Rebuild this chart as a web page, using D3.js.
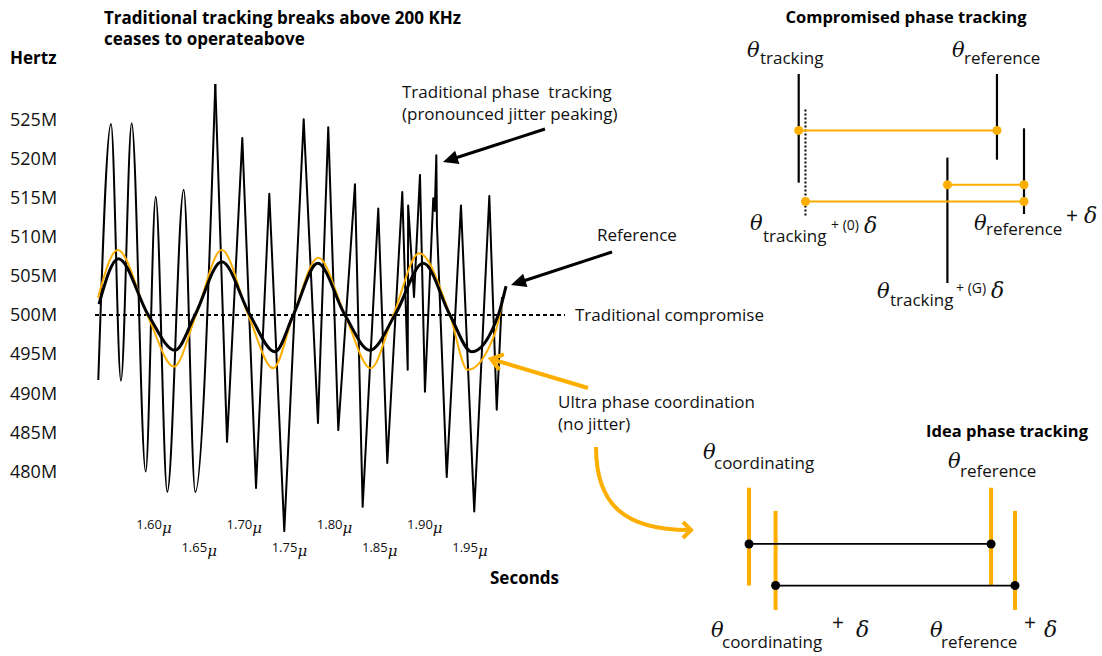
<!DOCTYPE html>
<html>
<head>
<meta charset="utf-8">
<script src="https://cdn.jsdelivr.net/npm/d3@7"></script>
<style>
body { margin: 0; background: #fff; }
svg { display: block; font-family: "Open Sans", sans-serif; }
.math { font-family: "DejaVu Serif", "Liberation Serif", serif; font-style: italic; }
</style>
</head>
<body>
<svg width="1102" height="656"></svg>
<script>
// ---- data (time in microseconds, frequency in MHz) ----
var jitterT = [1.5383, 1.5524, 1.5634, 1.5753, 1.5908, 1.6019, 1.6147, 1.6329, 1.6457, 1.6679,
  1.6809, 1.6978, 1.7130, 1.7277, 1.7443, 1.7658, 1.7816, 1.7930, 1.8041, 1.8226,
  1.8311, 1.8484, 1.8584, 1.8750, 1.8810, 1.8815, 1.8880, 1.8946, 1.9001, 1.9093,
  1.9110, 1.9127, 1.9134, 1.9242, 1.9400, 1.9547, 1.9714, 1.9796, 1.9854];
var jitterHz = [491.7, 524.4, 491.6, 524.5, 480.0, 515.1, 477.4, 516.0, 477.4, 529.5,
  483.8, 522.6, 477.9, 515.5, 472.4, 525.0, 486.2, 524.0, 485.3, 516.7,
  475.5, 513.6, 481.1, 515.7, 493.0, 514.0, 502.3, 517.9, 490.2, 514.9,
  513.3, 520.4, 511.5, 479.3, 514.0, 474.9, 515.2, 487.9, 502.3];

var refT = [1.5391, 1.5605, 1.5937, 1.6233, 1.6454, 1.6750, 1.7063, 1.7340, 1.7543, 1.7813,
  1.8115, 1.8392, 1.8669, 1.8983, 1.9278, 1.9519, 1.9813, 1.9899];
var refHz = [501.4, 507.2, 500.0, 495.5, 500.0, 506.8, 500.0, 495.3, 500.0, 506.6,
  500.0, 495.5, 500.0, 506.6, 500.0, 495.3, 500.0, 503.7];

var ultraT = [1.5380, 1.5598, 1.5926, 1.6222, 1.6465, 1.6750, 1.7044, 1.7321, 1.7543, 1.7820,
  1.8115, 1.8400, 1.8650, 1.8938, 1.9278, 1.9473, 1.9777, 1.9876];
var ultraHz = [502.2, 508.3, 500.0, 493.4, 500.0, 508.3, 500.0, 493.2, 500.0, 507.3,
  500.0, 493.2, 500.0, 507.9, 500.0, 493.0, 497.7, 502.7];

var compromiseHz = 500;
var yTicks = [525, 520, 515, 510, 505, 500, 495, 490, 485, 480];
var xTicks = [1.60, 1.65, 1.70, 1.75, 1.80, 1.85, 1.90, 1.95];

// compromised phase tracking diagram (phase 0..1, height 0..100)
var compMarkPhase = [0, 0.03, 0.66, 0.88, 1];
var compMarkTop = [0, 17, 40, 0, 26];
var compMarkBottom = [52, 68, 100, 41, 67];
var compLinkFrom = [0, 0.66, 0.03];
var compLinkTo = [0.88, 1, 1];
var compLinkY = [27, 53, 61];

// ideal phase tracking diagram
var idealMarkPhase = [0, 0.1, 0.91, 1];
var idealMarkTop = [0, 19, 0, 19];
var idealMarkBottom = [80, 100, 80, 100];
var idealLinkFrom = [0, 0.1];
var idealLinkTo = [0.91, 1];
var idealLinkY = [46, 80];

var gold = "#fcaf00";
var svg = d3.select("svg");

var x = d3.scaleLinear().domain([1.60, 1.95]).range([154, 470]);
var y = d3.scaleLinear().domain([480, 525]).range([471.6, 119.3]);

// titles
var title = svg.append("text").attr("font-weight", "bold").attr("font-size", 17);
title.append("tspan").attr("x", 104).attr("y", 24).text("Traditional tracking breaks above 200 KHz");
title.append("tspan").attr("x", 104).attr("y", 45).text("ceases to operateabove");
svg.append("text").attr("x", 10).attr("y", 64).attr("font-weight", "bold").attr("font-size", 17).text("Hertz");
svg.append("text").attr("x", 490).attr("y", 584).attr("font-weight", "bold").attr("font-size", 17).text("Seconds");

// y tick labels
svg.append("g").selectAll("text").data(yTicks).join("text")
  .attr("x", 10).attr("y", function(d) { return y(d); }).attr("dy", "0.35em")
  .attr("font-size", 18).attr("fill", "#111")
  .text(function(d) { return d + "M"; });

// x tick labels, staggered
var xt = svg.append("g").selectAll("text").data(xTicks).join("text")
  .attr("x", function(d) { return x(d); })
  .attr("y", function(d, i) { return i % 2 ? 552 : 529; })
  .attr("text-anchor", "middle").attr("font-size", 13).attr("fill", "#111");
xt.append("tspan").text(function(d) { return d.toFixed(2); });
xt.append("tspan").attr("class", "math").attr("dy", 4).attr("font-size", 15).text("\u03bc");

// compromise dashed line
svg.append("line")
  .attr("x1", 95).attr("x2", 565).attr("y1", y(compromiseHz)).attr("y2", y(compromiseHz))
  .attr("stroke", "#000").attr("stroke-width", 2).attr("stroke-dasharray", "4,3");

function series(ts, vs, curve) {
  return d3.line().x(function(d) { return x(ts[d]); }).y(function(d) { return y(vs[d]); }).curve(curve);
}
// jitter: rounded swings at first, sharp spikes later on
var early = d3.range(0, 10), late = d3.range(9, jitterT.length);
svg.append("path").attr("d", series(jitterT, jitterHz, d3.curveMonotoneX)(early))
  .attr("fill", "none").attr("stroke", "#000").attr("stroke-width", 2);
svg.append("path").attr("d", series(jitterT, jitterHz, d3.curveLinear)(late))
  .attr("fill", "none").attr("stroke", "#000").attr("stroke-width", 2).attr("stroke-linejoin", "round");
svg.append("path").attr("d", series(ultraT, ultraHz, d3.curveMonotoneX)(d3.range(ultraT.length)))
  .attr("fill", "none").attr("stroke", gold).attr("stroke-width", 2);
svg.append("path").attr("d", series(refT, refHz, d3.curveMonotoneX)(d3.range(refT.length)))
  .attr("fill", "none").attr("stroke", "#000").attr("stroke-width", 3);

// annotation arrows
function arrow(x1, y1, x2, y2, color, w, len, half, open) {
  var dx = x2 - x1, dy = y2 - y1, l = Math.sqrt(dx * dx + dy * dy);
  var ux = dx / l, uy = dy / l, nx = -uy, ny = ux;
  var bx = x2 - ux * len, by = y2 - uy * len;
  svg.append("line").attr("x1", x1).attr("y1", y1)
    .attr("x2", open ? x2 - ux * 2 : bx + ux * 2).attr("y2", open ? y2 - uy * 2 : by + uy * 2)
    .attr("stroke", color).attr("stroke-width", w);
  var pts = [[bx + nx * half, by + ny * half], [x2, y2], [bx - nx * half, by - ny * half]];
  if (open) {
    svg.append("polyline").attr("points", pts.join(" ")).attr("fill", "none")
      .attr("stroke", color).attr("stroke-width", w).attr("stroke-linejoin", "miter");
  } else {
    svg.append("polygon").attr("points", pts.join(" ")).attr("fill", color);
  }
}
arrow(545, 129, 443, 162, "#000", 3, 15, 7, false);
arrow(612, 252, 511, 285, "#000", 3, 15, 7, false);
arrow(588, 388, 491, 359, gold, 4, 11, 8, true);

// curved arrow to ideal diagram
svg.append("path").attr("d", "M596,447 C596,505 625,530 689,530")
  .attr("fill", "none").attr("stroke", gold).attr("stroke-width", 4);
svg.append("polyline").attr("points", "683,522 691,530 683,538")
  .attr("fill", "none").attr("stroke", gold).attr("stroke-width", 4);

// annotation texts
function label(x0, y0, lines) {
  var t = svg.append("text").attr("font-size", 17).attr("fill", "#111");
  lines.forEach(function(s, i) {
    t.append("tspan").attr("x", x0).attr("y", y0 + i * 21.5).attr("xml:space", "preserve").text(s);
  });
}
label(402, 98, ["Traditional phase\u00a0 tracking", "(pronounced jitter peaking)"]);
label(597, 241, ["Reference"]);
label(575, 321, ["Traditional compromise"]);
label(558, 408, ["Ultra phase coordination", "(no jitter)"]);

// math label: one text element, pieces placed as tspans
// piece: [text, x, y, size, isMath]
function mathLabel(pieces) {
  var t = svg.append("text").attr("fill", "#111");
  pieces.forEach(function(p) {
    t.append("tspan").attr("x", p[1]).attr("y", p[2]).attr("font-size", p[3])
      .attr("class", p[4] ? "math" : null).text(p[0]);
  });
}
var TH = "\u03b8", DL = "\u03b4";

// ---- compromised phase tracking ----
var cx = d3.scaleLinear().domain([0, 1]).range([798.7, 1024]);
var cy = d3.scaleLinear().domain([0, 100]).range([74, 283]);
svg.append("text").attr("x", 906).attr("y", 23).attr("text-anchor", "middle")
  .attr("font-weight", "bold").attr("font-size", 16.5).text("Compromised phase tracking");

svg.append("g").selectAll("line").data(compMarkPhase).join("line")
  .attr("x1", function(d) { return cx(d); }).attr("x2", function(d) { return cx(d); })
  .attr("y1", function(d, i) { return cy(compMarkTop[i]); })
  .attr("y2", function(d, i) { return cy(compMarkBottom[i]); })
  .attr("stroke", "#000").attr("stroke-width", function(d, i) { return i === 1 ? 2 : 2.2; })
  .attr("stroke-dasharray", function(d, i) { return i === 1 ? "2,2" : null; });
svg.append("g").selectAll("line").data(compLinkY).join("line")
  .attr("x1", function(d, i) { return cx(compLinkFrom[i]); })
  .attr("x2", function(d, i) { return cx(compLinkTo[i]); })
  .attr("y1", function(d) { return cy(d); }).attr("y2", function(d) { return cy(d); })
  .attr("stroke", gold).attr("stroke-width", 2);
var compDots = [];
compLinkY.forEach(function(d, i) { compDots.push([compLinkFrom[i], d], [compLinkTo[i], d]); });
svg.append("g").selectAll("circle").data(compDots).join("circle")
  .attr("cx", function(d) { return cx(d[0]); }).attr("cy", function(d) { return cy(d[1]); })
  .attr("r", 4.5).attr("fill", gold);

mathLabel([[TH, 747, 57, 21, true], ["tracking", 760, 64, 17]]);
mathLabel([[TH, 952, 57, 21, true], ["reference", 964, 64, 17]]);
mathLabel([[TH, 750, 230, 21, true], ["tracking", 763, 242, 17], ["+ (0)", 831, 230, 14], [DL, 864, 233, 22, true]]);
mathLabel([[TH, 974, 230, 21, true], ["reference", 986, 235, 17], ["+", 1066, 223, 21], [DL, 1084, 223, 22, true]]);
mathLabel([[TH, 877, 298, 21, true], ["tracking", 890, 306, 17], ["+ (G)", 956, 293, 14], [DL, 991, 298, 22, true]]);

// ---- ideal phase tracking ----
var ix = d3.scaleLinear().domain([0, 1]).range([749, 1015]);
var iy = d3.scaleLinear().domain([0, 100]).range([487.7, 610]);
svg.append("text").attr("x", 1007).attr("y", 437).attr("text-anchor", "middle")
  .attr("font-weight", "bold").attr("font-size", 16.5).text("Idea phase tracking");

svg.append("g").selectAll("line").data(idealMarkPhase).join("line")
  .attr("x1", function(d) { return ix(d); }).attr("x2", function(d) { return ix(d); })
  .attr("y1", function(d, i) { return iy(idealMarkTop[i]); })
  .attr("y2", function(d, i) { return iy(idealMarkBottom[i]); })
  .attr("stroke", gold).attr("stroke-width", 4);
svg.append("g").selectAll("line").data(idealLinkY).join("line")
  .attr("x1", function(d, i) { return ix(idealLinkFrom[i]); })
  .attr("x2", function(d, i) { return ix(idealLinkTo[i]); })
  .attr("y1", function(d) { return iy(d); }).attr("y2", function(d) { return iy(d); })
  .attr("stroke", "#000").attr("stroke-width", 1.8);
var idealDots = [];
idealLinkY.forEach(function(d, i) { idealDots.push([idealLinkFrom[i], d], [idealLinkTo[i], d]); });
svg.append("g").selectAll("circle").data(idealDots).join("circle")
  .attr("cx", function(d) { return ix(d[0]); }).attr("cy", function(d) { return iy(d[1]); })
  .attr("r", 4.5).attr("fill", "#000");

mathLabel([[TH, 703, 459, 21, true], ["coordinating", 714, 469, 17]]);
mathLabel([[TH, 948, 468, 21, true], ["reference", 960, 477, 17]]);
mathLabel([[TH, 711, 637, 21, true], ["coordinating", 722, 648, 17], ["+", 832, 630, 21], [DL, 856, 637, 22, true]]);
mathLabel([[TH, 930, 637, 21, true], ["reference", 941, 648, 17], ["+", 1024, 630, 21], [DL, 1044, 637, 22, true]]);
</script>
</body>
</html>
